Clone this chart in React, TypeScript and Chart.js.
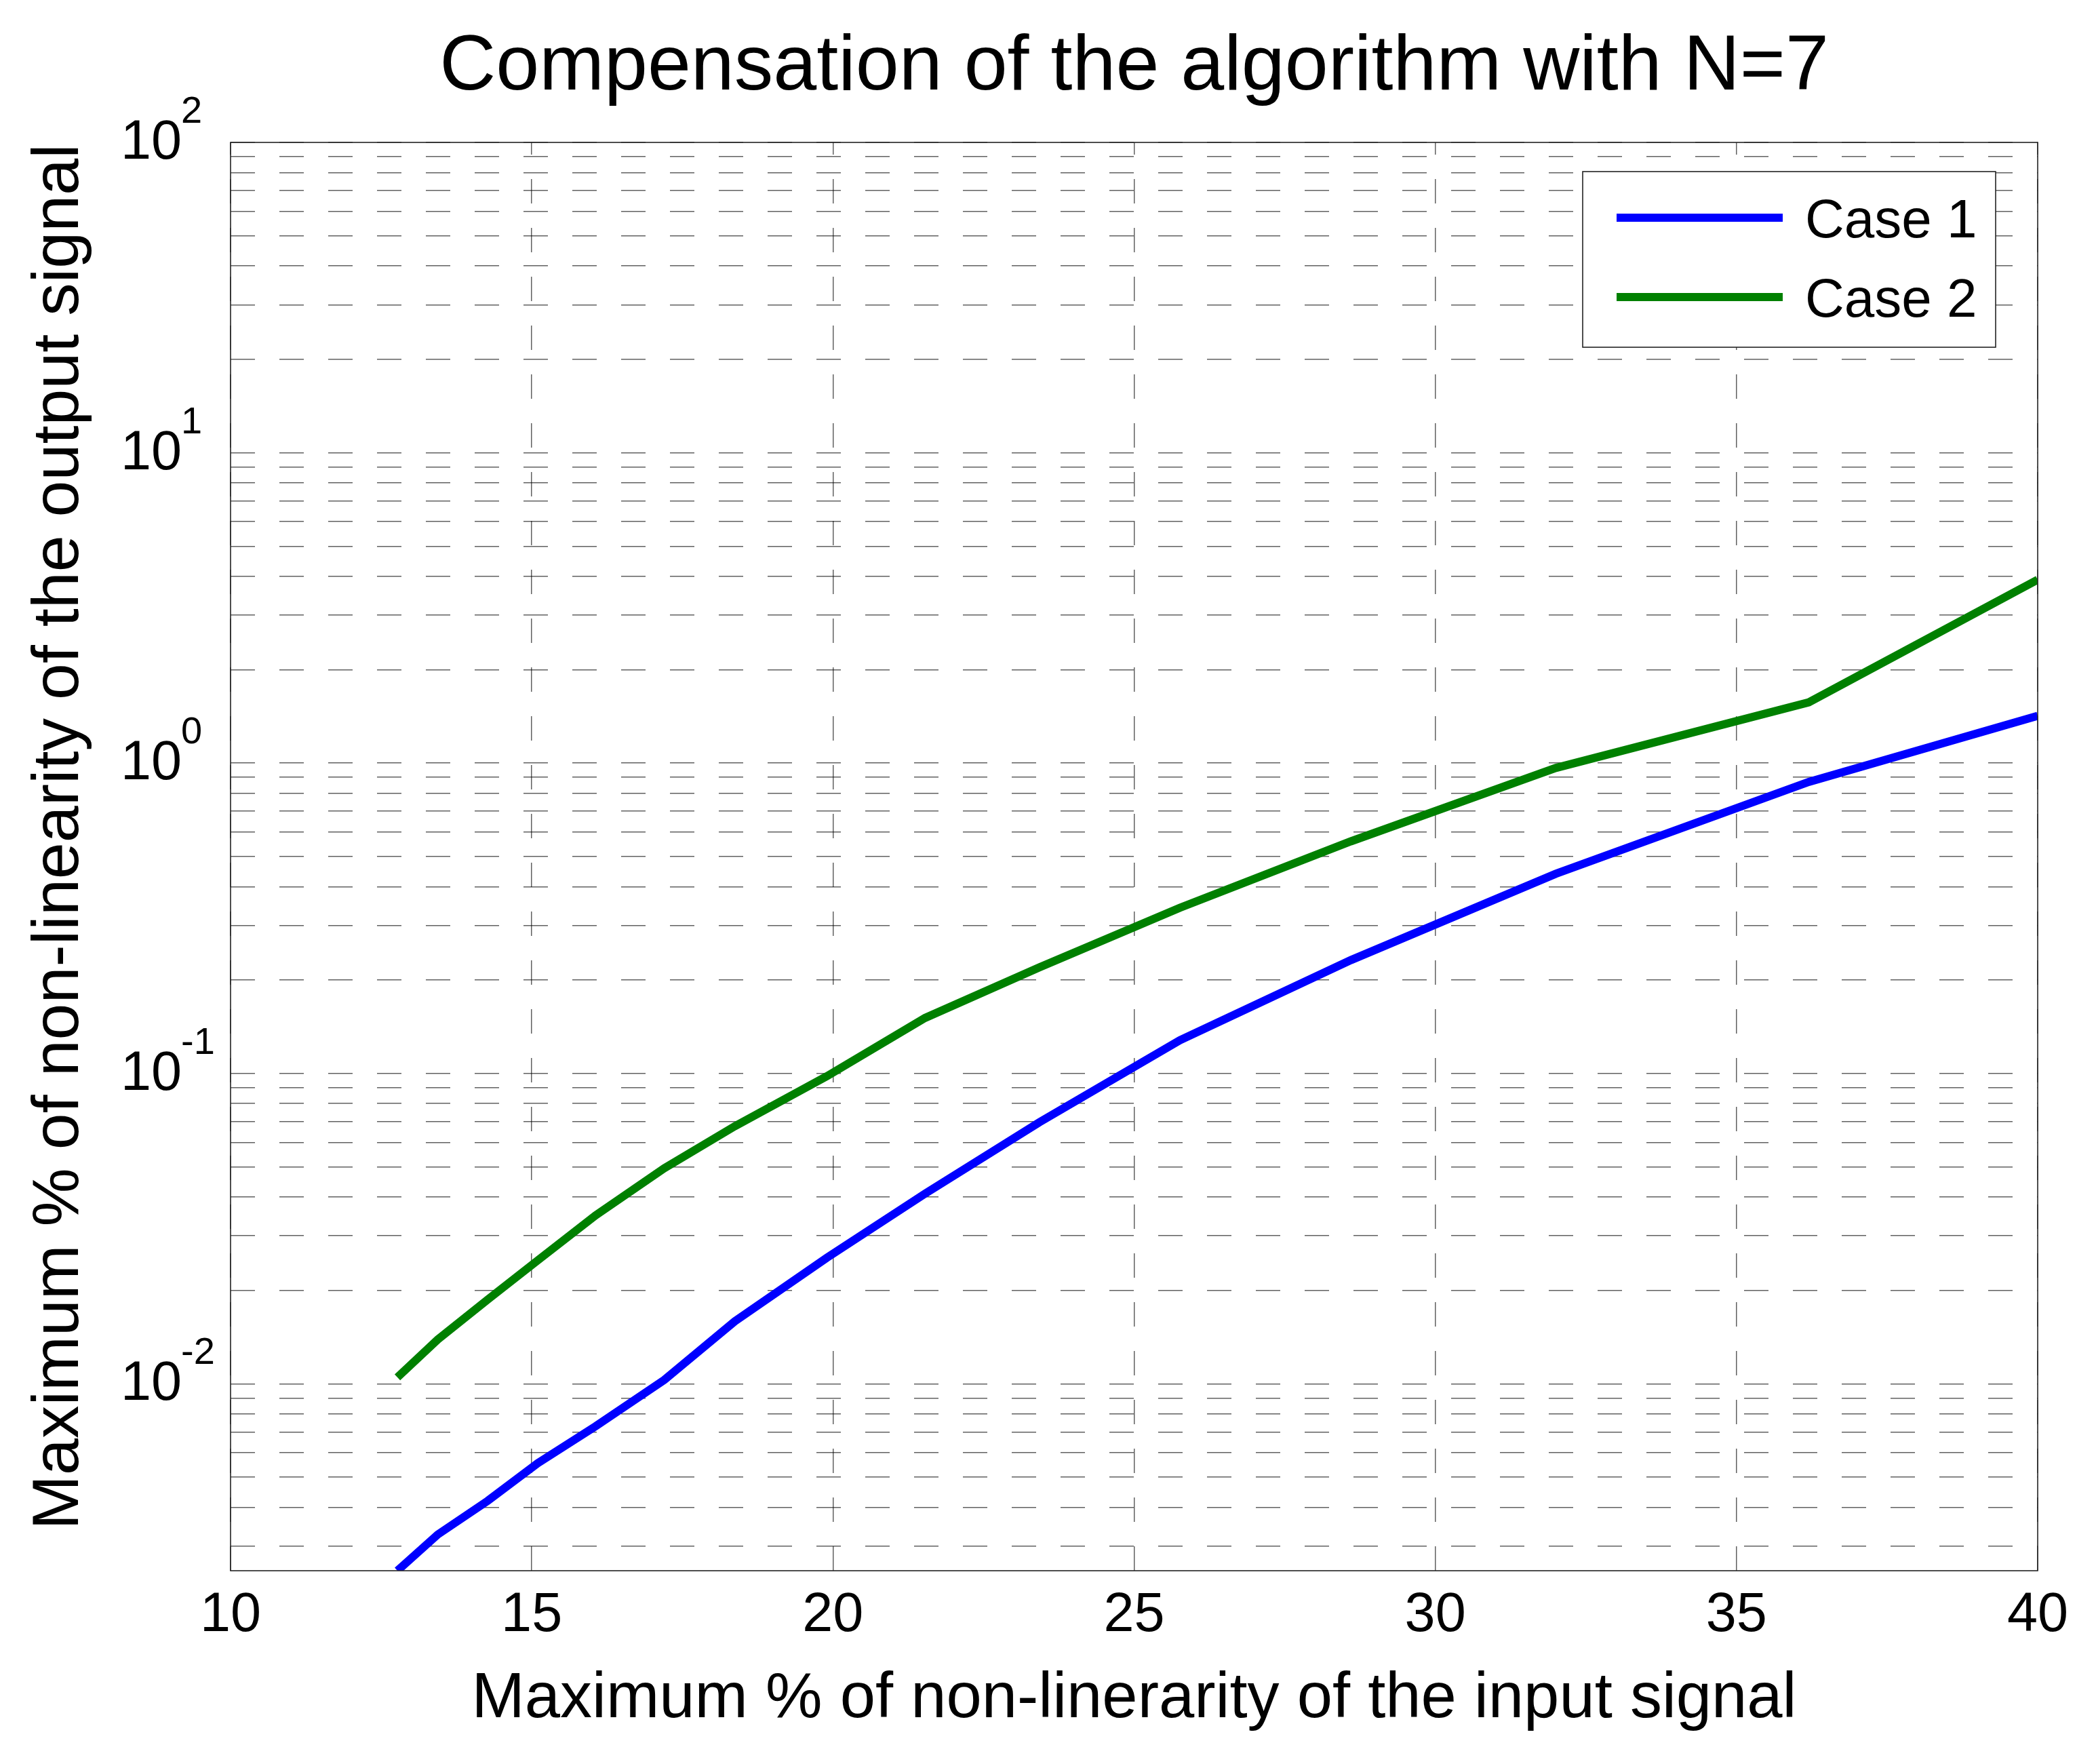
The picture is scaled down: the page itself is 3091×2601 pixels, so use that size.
import React, { useEffect, useRef } from 'react';
import { Chart, registerables } from 'chart.js';

Chart.register(...registerables);

// === Data (log y axis) ===
const X_VALUES = [12.77, 13.44, 14.27, 15.1, 16.06, 17.2, 18.37, 19.9, 21.53, 23.43, 25.76, 28.6, 32.0, 36.2, 40];
const CASE1 = [0.0025, 0.00327, 0.0042, 0.00555, 0.0073, 0.0103, 0.0159, 0.0255, 0.041, 0.0697, 0.128, 0.232, 0.44, 0.87, 1.42];
const CASE2 = [0.0105, 0.0139, 0.0187, 0.025, 0.0349, 0.0495, 0.0676, 0.098, 0.151, 0.22, 0.342, 0.56, 0.965, 1.57, 3.9];

const SERIES_LABELS = ['Case 1', 'Case 2'];
const SERIES_COLORS = ['#0000ff', '#008000'];

// === Axes ===
const X_TICKS = [10, 15, 20, 25, 30, 35, 40];
const Y_DECADE_EXPONENTS = [-2, -1, 0, 1, 2];
const Y_GRID_EXPONENTS = [-3, -2, -1, 0, 1];
const Y_GRID_MULTIPLES = [1, 2, 3, 4, 5, 6, 7, 8, 9];
const Y_MIN = 0.0025;
const Y_MAX = 100;

const TITLE = 'Compensation of the algorithm with N=7';
const X_TITLE = 'Maximum % of non-linerarity of the input signal';
const Y_TITLE = 'Maximum % of non-linearity of the output signal';

const FONT = '"Liberation Sans", Arial, Helvetica, sans-serif';
const GRID_COLOR = 'rgba(0,0,0,0.62)';

const yGridValues = (): number[] => {
  const vals: number[] = [];
  Y_GRID_EXPONENTS.forEach(e => {
    Y_GRID_MULTIPLES.forEach(m => {
      const v = Number((m * Math.pow(10, e)).toPrecision(6));
      if (v > Y_MIN && v < Y_MAX) vals.push(v);
    });
  });
  vals.push(Y_MAX);
  return vals;
};

// box, legend, y title and 10^n labels drawn on top of the chart
const decorPlugin = {
  id: 'matlabDecor',
  afterDraw(chart: any) {
    const { ctx, chartArea } = chart;
    const { left, right, top, bottom } = chartArea;
    ctx.save();

    // axes box
    ctx.strokeStyle = '#222';
    ctx.lineWidth = 1.6;
    ctx.setLineDash([]);
    ctx.strokeRect(left, top, right - left, bottom - top);

    // y tick labels: 10 with a raised exponent
    const yScale = chart.scales.y;
    ctx.fillStyle = '#000';
    ctx.textAlign = 'left';
    ctx.textBaseline = 'alphabetic';
    Y_DECADE_EXPONENTS.forEach(e => {
      const py = yScale.getPixelForValue(Math.pow(10, e));
      ctx.font = `81px ${FONT}`;
      const bx = left - 162;
      ctx.fillText('10', bx, py + 24);
      const w = ctx.measureText('10').width;
      ctx.font = `56px ${FONT}`;
      ctx.fillText(String(e), bx + w - 1, py - 29);
    });

    // y axis title (rotated)
    ctx.save();
    ctx.translate(88, (top + bottom) / 2 - 29);
    ctx.rotate(-Math.PI / 2);
    ctx.textAlign = 'center';
    ctx.textBaseline = 'middle';
    ctx.font = `97px ${FONT}`;
    ctx.fillText(Y_TITLE, 0, 0);
    ctx.restore();

    // legend box
    const lx = right - 671;
    const ly = top + 43;
    const lw = 609;
    const lh = 259;
    ctx.fillStyle = '#fff';
    ctx.fillRect(lx, ly, lw, lh);
    ctx.strokeStyle = '#222';
    ctx.lineWidth = 1.6;
    ctx.strokeRect(lx, ly, lw, lh);
    ctx.textAlign = 'left';
    ctx.textBaseline = 'alphabetic';
    chart.data.datasets.forEach((ds: any, i: number) => {
      const ry = ly + 68 + i * 117;
      ctx.strokeStyle = ds.borderColor;
      ctx.lineWidth = ds.borderWidth;
      ctx.beginPath();
      ctx.moveTo(lx + 50, ry);
      ctx.lineTo(lx + 295, ry);
      ctx.stroke();
      ctx.fillStyle = '#000';
      ctx.font = `80px ${FONT}`;
      ctx.fillText(ds.label, lx + 328, ry + 29);
    });

    ctx.restore();
  },
};

const App: React.FC = () => {
  const canvasRef = useRef<HTMLCanvasElement>(null);

  useEffect(() => {
    if (!canvasRef.current) return;
    const chart = new Chart(canvasRef.current, {
      type: 'line',
      data: {
        datasets: [CASE1, CASE2].map((series, i) => ({
          label: SERIES_LABELS[i],
          data: X_VALUES.map((x, j) => ({ x, y: series[j] })),
          borderColor: SERIES_COLORS[i],
          backgroundColor: SERIES_COLORS[i],
          borderWidth: 12,
          pointRadius: 0,
          tension: 0,
          fill: false,
        })),
      },
      options: {
        animation: false,
        responsive: true,
        maintainAspectRatio: false,
        layout: { padding: { left: 0, top: 0, right: 86, bottom: 0 } },
        plugins: {
          legend: { display: false },
          tooltip: { enabled: false },
          title: {
            display: true,
            text: TITLE,
            color: '#000',
            fullSize: false,
            font: { family: FONT, size: 115, weight: 'normal' },
            padding: { top: 31, bottom: 41 },
          },
        },
        scales: {
          x: {
            type: 'linear',
            min: 10,
            max: 40,
            afterBuildTicks: (scale: any) => {
              scale.ticks = X_TICKS.map(value => ({ value }));
            },
            afterFit: (scale: any) => {
              scale.height = 285;
            },
            ticks: {
              autoSkip: false,
              maxRotation: 0,
              padding: 18,
              color: '#000',
              font: { family: FONT, size: 81 },
            },
            grid: { color: GRID_COLOR, lineWidth: 1.5, drawTicks: false },
            border: { display: false, dash: [36, 36], dashOffset: 18 },
            title: {
              display: true,
              text: X_TITLE,
              color: '#000',
              font: { family: FONT, size: 94 },
              padding: { top: 0, bottom: 39 },
            },
          },
          y: {
            type: 'logarithmic',
            min: Y_MIN,
            max: Y_MAX,
            afterBuildTicks: (scale: any) => {
              scale.ticks = yGridValues().map(value => ({ value }));
            },
            afterFit: (scale: any) => {
              scale.width = 340;
            },
            ticks: { display: false, autoSkip: false },
            grid: { color: GRID_COLOR, lineWidth: 1.5, drawTicks: false },
            border: { display: false, dash: [36, 36] },
          },
        },
      },
      plugins: [decorPlugin],
    });
    return () => chart.destroy();
  }, []);

  return (
    <div
      style={{
        position: 'absolute',
        left: 0,
        top: 0,
        width: 3091,
        height: 2601,
        background: '#fff',
      }}
    >
      <canvas ref={canvasRef} />
    </div>
  );
};

export default App;
